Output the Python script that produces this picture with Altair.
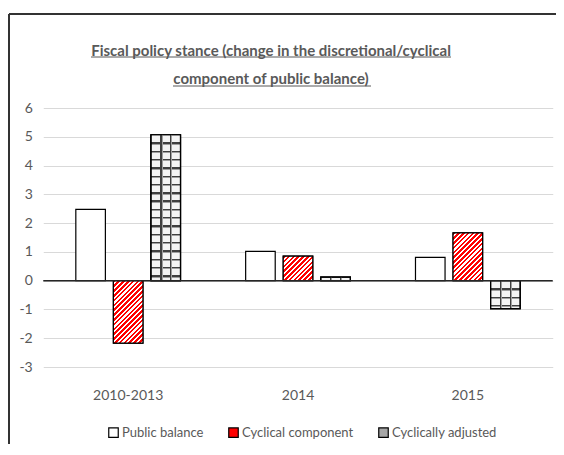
import math
import pandas as pd
import altair as alt

# ---------------- data ----------------
categories = ["2010-2013", "2014", "2015"]
series_names = ["Public balance", "Cyclical component", "Cyclically adjusted"]
public_balance = [2.48, 1.02, 0.81]
cyclical_component = [-2.17, 0.85, 1.66]
cyclically_adjusted = [5.07, 0.12, -0.97]
y_ticks = [-3, -2, -1, 0, 1, 2, 3, 4, 5, 6]
title_lines = ["Fiscal policy stance (change in the discretional/cyclical",
               "component of public balance)"]

values_by_series = {
    series_names[0]: public_balance,
    series_names[1]: cyclical_component,
    series_names[2]: cyclically_adjusted,
}
rows = []
for s in series_names:
    for c, v in zip(categories, values_by_series[s]):
        rows.append({"category": c, "series": s, "value": v})
df = pd.DataFrame(rows)
zero_df = pd.DataFrame({"value": [0]})

# ---------------- layout / style ----------------
FONT = "Lato, Roboto, sans-serif"
TEXT_COLOR = "#595959"
W, H = 509.5, 259
PAD_L, PAD_T = 35.25, 100
TOTAL_W, TOTAL_H = 548, 436
Y_MIN, Y_MAX = -3, 6
OFF_PI, OFF_PO = 0.213, 0.867
FRAME_Y = 6  # absolute y of the top frame line

px_per_unit = H / (Y_MAX - Y_MIN)
x_step = W / len(categories)
off_step = x_step / (len(series_names) - OFF_PI + 2 * OFF_PO)
bar_w = off_step * (1 - OFF_PI)


def hatch_gradient(w, h, period=4.8, c1="#ff0000", c2="#ffffff"):
    """Diagonal '/' stripes inside a bar of pixel size w x h."""
    k = (w + h) / (w * w + h * h)
    n = (w + h) / period
    stops = []
    i = 0
    while i / n < 1:
        a, b, c = i / n, min((i + 0.55) / n, 1), min((i + 1) / n, 1)
        stops += [{"offset": a, "color": c1}, {"offset": b, "color": c1},
                  {"offset": b, "color": c2}, {"offset": c, "color": c2}]
        i += 1
    return {"gradient": "linear", "x1": 0, "y1": 0, "x2": k * w, "y2": k * h,
            "stops": stops}


def brick_rows_gradient(h, row=8.3, line=1.4, shade=1.0, c_line="#404040",
                        c_shade="#a0a0a0", c_face="#f4f4f4"):
    """Horizontal mortar lines (with a light shadow under each)."""
    stops = []
    y = row
    last = 0.0
    while y < h - 0.5:
        a = (y - line / 2) / h
        b = min((y + line / 2) / h, 1)
        c = min((y + line / 2 + shade) / h, 1)
        stops += [{"offset": last, "color": c_face}, {"offset": a, "color": c_face},
                  {"offset": a, "color": c_line}, {"offset": b, "color": c_line},
                  {"offset": b, "color": c_shade}, {"offset": c, "color": c_shade}]
        last = c
        y += row
    stops += [{"offset": last, "color": c_face}, {"offset": 1, "color": c_face}]
    return {"gradient": "linear", "x1": 0, "y1": 0, "x2": 0, "y2": 1, "stops": stops}


def brick_joints_gradient(w, line=1.4, shade=1.0, c_line="#404040", c_shade="#a0a0a0"):
    """Vertical joints (transparent elsewhere) laid over the mortar rows."""
    clear = "rgba(255,255,255,0)"
    stops = [{"offset": 0, "color": clear}]
    for f in (1 / 3, 2 / 3):
        a = (w * f - line / 2) / w
        b = (w * f + line / 2) / w
        c = (w * f + line / 2 + shade) / w
        stops += [{"offset": a, "color": clear}, {"offset": a, "color": c_line},
                  {"offset": b, "color": c_line}, {"offset": b, "color": c_shade},
                  {"offset": c, "color": c_shade}, {"offset": c, "color": clear}]
    stops.append({"offset": 1, "color": clear})
    return {"gradient": "linear", "x1": 0, "y1": 0, "x2": 1, "y2": 0, "stops": stops}


x_scale = alt.Scale(domain=categories, paddingInner=0, paddingOuter=0)
xo_scale = alt.Scale(domain=series_names, paddingInner=OFF_PI, paddingOuter=OFF_PO)
y_scale = alt.Scale(domain=[Y_MIN, Y_MAX], nice=False, zero=True)

x_axis = alt.Axis(title=None, labelAngle=0, ticks=False, domain=False,
                  grid=False, labelPadding=21, labelFontSize=14,
                  labelFont=FONT, labelColor=TEXT_COLOR)
y_axis = alt.Axis(title=None, values=y_ticks, ticks=False, domain=False,
                  grid=True, gridColor="#d9d9d9", gridWidth=1,
                  labelPadding=11, labelFontSize=14, labelFont=FONT,
                  labelColor=TEXT_COLOR, labelOverlap=False,
                  labelExpr="'' + datum.value")

x_enc = alt.X("category:N", sort=categories, scale=x_scale, axis=x_axis)
y_enc = alt.Y("value:Q", scale=y_scale, axis=y_axis)
xo_enc = alt.XOffset("series:N", scale=xo_scale)

base = alt.Chart(df)

legend_layer = base.mark_bar(stroke="black", strokeWidth=1.2).encode(
    x=x_enc, xOffset=xo_enc, y=y_enc,
    fill=alt.Fill("series:N",
                  scale=alt.Scale(domain=series_names,
                                  range=["#ffffff", "#ff0000", "#a6a6a6"]),
                  legend=alt.Legend(title=None, orient="none", direction="horizontal",
                                    legendX=63.75, legendY=318, symbolType="square",
                                    symbolSize=90, symbolStrokeColor="black",
                                    symbolStrokeWidth=1.2, labelFontSize=13,
                                    labelFont=FONT, labelColor=TEXT_COLOR,
                                    labelOffset=2, columnPadding=22, padding=0)),
)

layers = [legend_layer]

for c, v in zip(categories, cyclical_component):
    h = abs(v) * px_per_unit
    layers.append(
        base.transform_filter(
            (alt.datum.series == series_names[1]) & (alt.datum.category == c)
        ).mark_bar(fill=hatch_gradient(bar_w, h), stroke="black", strokeWidth=1.2)
        .encode(x=x_enc, xOffset=xo_enc, y=y_enc)
    )

for c, v in zip(categories, cyclically_adjusted):
    h = abs(v) * px_per_unit
    layers.append(
        base.transform_filter(
            (alt.datum.series == series_names[2]) & (alt.datum.category == c)
        ).mark_bar(fill=brick_rows_gradient(h), stroke="black", strokeWidth=1.2)
        .encode(x=x_enc, xOffset=xo_enc, y=y_enc)
    )

layers.append(
    base.transform_filter(alt.datum.series == series_names[2])
    .mark_bar(fill=brick_joints_gradient(bar_w), stroke="black", strokeWidth=1.2)
    .encode(x=x_enc, xOffset=xo_enc, y=y_enc)
)

zero_rule = alt.Chart(zero_df).mark_rule(color="#262626", strokeWidth=1.5).encode(
    y=y_enc
)
layers.append(zero_rule)

# chart-area frame (top and left edges) and title underlines: decoration only
frame_left = alt.Chart(zero_df).mark_rule(color="#333333", strokeWidth=2).encode(
    x=alt.value(1 - PAD_L), y=alt.value(FRAME_Y - PAD_T),
    y2=alt.value(TOTAL_H - PAD_T + 5)
)
frame_top = alt.Chart(zero_df).mark_rule(color="#333333", strokeWidth=2).encode(
    x=alt.value(1 - PAD_L), x2=alt.value(TOTAL_W), y=alt.value(FRAME_Y - PAD_T)
)
underline1 = alt.Chart(zero_df).mark_rule(color=TEXT_COLOR, strokeWidth=1).encode(
    x=alt.value(83 - PAD_L), x2=alt.value(443 - PAD_L), y=alt.value(49 - PAD_T)
)
underline2 = alt.Chart(zero_df).mark_rule(color=TEXT_COLOR, strokeWidth=1).encode(
    x=alt.value(165 - PAD_L), x2=alt.value(363 - PAD_L), y=alt.value(78 - PAD_T)
)
layers += [frame_left, frame_top, underline1, underline2]

# the frame line bounds the group at FRAME_Y - 1; title bottom wanted ~21px above plot
title_offset = 21 - (PAD_T - (FRAME_Y - 1))

chart = alt.layer(*layers).properties(
    width=W, height=H,
    title=alt.TitleParams(title_lines, fontSize=15, fontWeight="bold",
                          color=TEXT_COLOR, font=FONT, lineHeight=28,
                          offset=title_offset, anchor="middle", frame="group",
                          dx=-27),
    autosize=alt.AutoSizeParams(type="none"),
    padding={"left": PAD_L, "top": PAD_T, "right": TOTAL_W - PAD_L - W,
             "bottom": TOTAL_H - PAD_T - H},
).configure(background="white").configure_view(stroke=None, strokeWidth=0)

chart.save("out.html", embed_options={"renderer": "svg", "actions": False})
